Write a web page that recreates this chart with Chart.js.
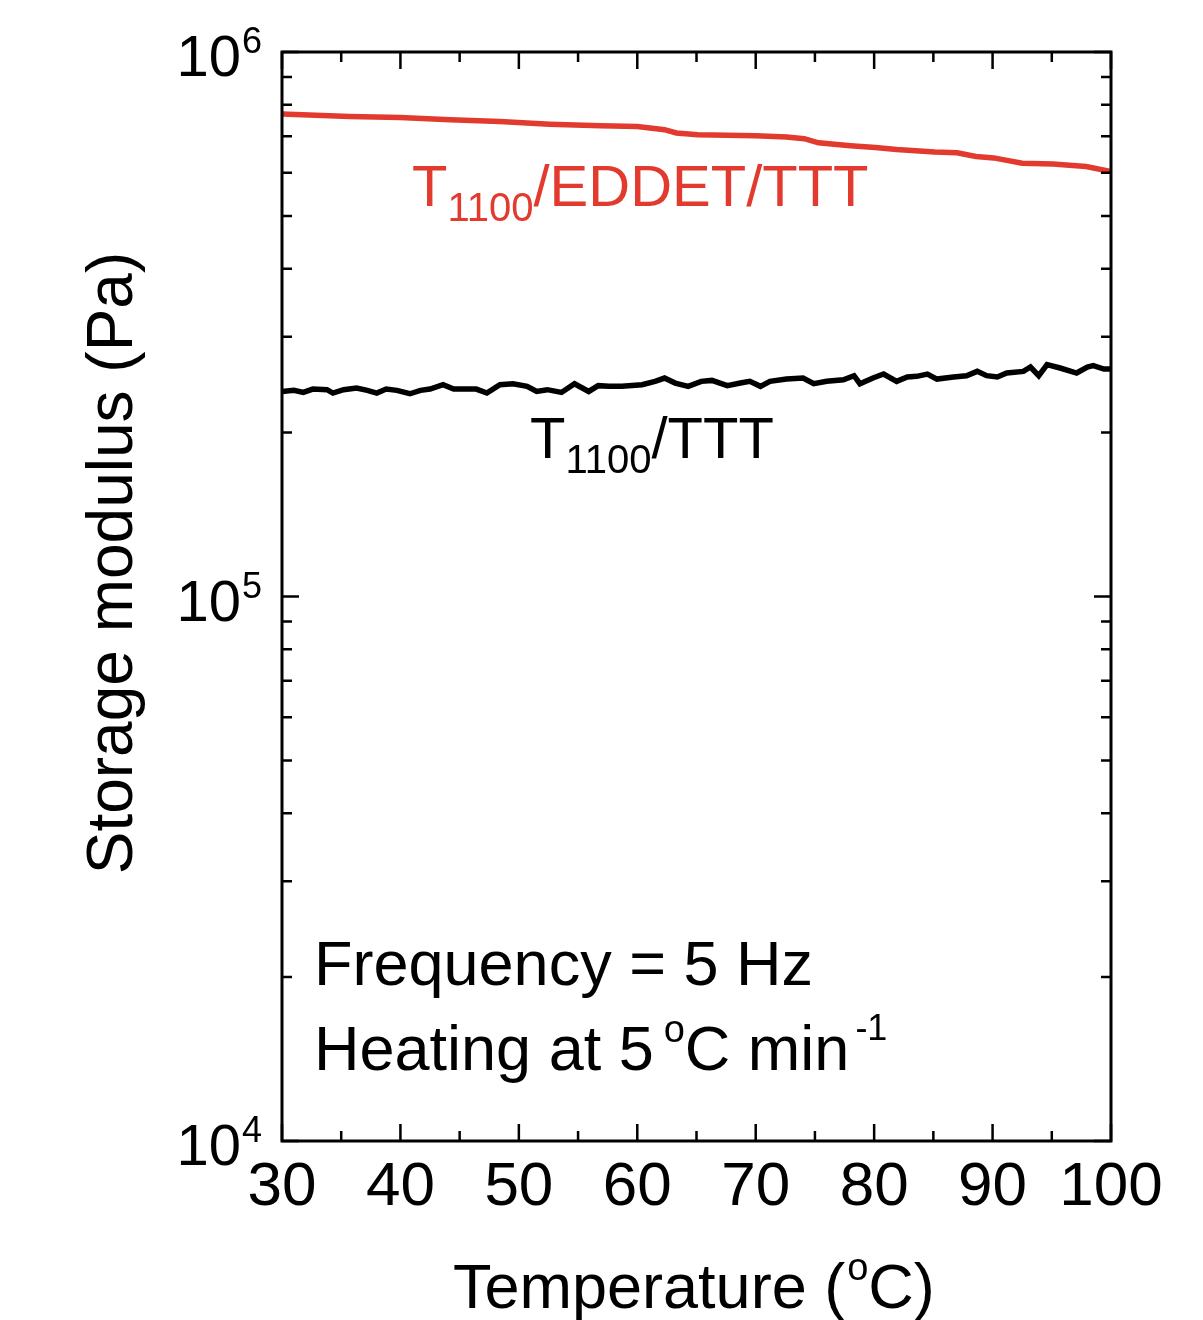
<!DOCTYPE html>
<html>
<head>
<meta charset="utf-8">
<script src="https://cdn.jsdelivr.net/npm/chart.js@4.4.1/dist/chart.umd.min.js"></script>
<style>
  html, body { margin: 0; padding: 0; background: #fff; }
  #wrap { width: 1203px; height: 1320px; }
</style>
</head>
<body>
<div id="wrap"><canvas id="chartModulus" width="1203" height="1320"></canvas></div>
<script>
// ---------- Datos ----------
const xTicks = [30, 40, 50, 60, 70, 80, 90, 100];
const yDecades = [4, 5, 6];

const redTemps = [30.0, 35.7, 40.0, 44.2, 48.4, 52.6, 56.9, 60.0, 62.3, 63.3, 65.1, 70.0, 72.6, 74.1,
    75.3, 78.0, 80.1, 81.9, 85.1, 87.0, 88.6, 90.1, 92.5, 95.1, 97.9, 100.0];
const redModulus = [7.69e5, 7.61e5, 7.58e5, 7.51e5, 7.45e5, 7.37e5, 7.32e5, 7.30e5, 7.20e5, 7.10e5, 7.05e5,
    7.02e5, 6.98e5, 6.93e5, 6.81e5, 6.73e5, 6.68e5, 6.62e5, 6.55e5, 6.53e5, 6.43e5, 6.39e5, 6.25e5,
    6.23e5, 6.16e5, 6.03e5];

const blackTemps = [30.0, 31.0, 31.8, 32.6, 33.8, 34.3, 35.2, 36.3, 37.2, 38.0, 38.8, 39.7, 40.8, 41.7,
    42.5, 43.6, 44.5, 45.6, 46.4, 47.3, 48.4, 49.5, 50.7, 51.5, 52.4, 53.6, 54.7, 55.9, 56.7, 57.6, 58.7,
    60.4, 61.5, 62.3, 63.2, 64.3, 65.4, 66.3, 67.6, 68.7, 69.5, 70.4, 71.2, 72.6, 74.0, 74.9, 76.0, 77.4,
    78.3, 78.8, 79.9, 80.8, 81.9, 82.8, 83.6, 84.5, 85.3, 86.7, 87.8, 88.7, 89.5, 90.4, 91.2, 92.6, 93.2,
    93.9, 94.6, 95.7, 97.1, 98.0, 98.5, 99.4, 100.0];
const blackModulus = [2.380e5, 2.391e5, 2.370e5, 2.404e5, 2.398e5, 2.364e5, 2.398e5, 2.415e5, 2.391e5,
    2.364e5, 2.404e5, 2.391e5, 2.357e5, 2.391e5, 2.404e5, 2.449e5, 2.404e5, 2.404e5, 2.404e5, 2.364e5,
    2.449e5, 2.459e5, 2.432e5, 2.380e5, 2.398e5, 2.370e5, 2.459e5, 2.380e5, 2.439e5, 2.432e5, 2.432e5,
    2.449e5, 2.484e5, 2.519e5, 2.466e5, 2.432e5, 2.484e5, 2.494e5, 2.439e5, 2.466e5, 2.484e5, 2.432e5,
    2.484e5, 2.508e5, 2.519e5, 2.459e5, 2.484e5, 2.501e5, 2.544e5, 2.459e5, 2.519e5, 2.562e5, 2.484e5,
    2.530e5, 2.537e5, 2.562e5, 2.508e5, 2.530e5, 2.544e5, 2.591e5, 2.544e5, 2.530e5, 2.573e5, 2.591e5,
    2.639e5, 2.544e5, 2.665e5, 2.628e5, 2.573e5, 2.639e5, 2.654e5, 2.617e5, 2.617e5];

const RED = '#e23a2e';
const FONT = '"Liberation Sans", Arial, Helvetica, sans-serif';

const toPoints = (xs, ys) => xs.map((x, i) => ({ x, y: ys[i] }));

// texto con sub/superindices: runs = [{ t, s, dy, dx }]
function drawRuns(ctx, x, y, runs, color) {
    ctx.save();
    ctx.fillStyle = color;
    ctx.textAlign = 'left';
    ctx.textBaseline = 'alphabetic';
    let cx = x;
    runs.forEach(r => {
        ctx.font = `${r.s}px ${FONT}`;
        cx += r.dx || 0;
        ctx.fillText(r.t, cx, y + (r.dy || 0));
        cx += ctx.measureText(r.t).width;
    });
    ctx.restore();
}

// ---------- Marco, ticks y textos ----------
const framePlugin = {
    id: 'frame',
    afterDraw(chart) {
        const { ctx, chartArea: a, scales: { x, y } } = chart;
        const MAJ = 17, MIN = 10;
        ctx.save();
        ctx.strokeStyle = '#000';
        ctx.lineWidth = 2.5;
        ctx.beginPath();
        // ticks x (arriba y abajo, hacia adentro)
        for (let t = 30; t <= 100; t += 5) {
            const px = x.getPixelForValue(t);
            const len = t % 10 === 0 ? MAJ : MIN;
            ctx.moveTo(px, a.bottom); ctx.lineTo(px, a.bottom - len);
            ctx.moveTo(px, a.top); ctx.lineTo(px, a.top + len);
        }
        // ticks y log
        yDecades.forEach(d => {
            for (let m = 1; m <= 9; m++) {
                if (d === 6 && m > 1) break;
                const py = y.getPixelForValue(m * Math.pow(10, d));
                const len = m === 1 ? MAJ : MIN;
                ctx.moveTo(a.left, py); ctx.lineTo(a.left + len, py);
                ctx.moveTo(a.right, py); ctx.lineTo(a.right - len, py);
            }
        });
        ctx.stroke();
        ctx.lineWidth = 3;
        ctx.strokeRect(a.left, a.top, a.right - a.left, a.bottom - a.top);
        ctx.restore();

        // etiquetas eje y: 10^n
        yDecades.forEach(d => {
            const py = y.getPixelForValue(Math.pow(10, d));
            ctx.save();
            ctx.fillStyle = '#000';
            ctx.textBaseline = 'alphabetic';
            ctx.font = `58px ${FONT}`;
            ctx.textAlign = 'right';
            ctx.fillText('10', 241, py + 24);
            ctx.font = `36px ${FONT}`;
            ctx.textAlign = 'left';
            ctx.fillText(String(d), 242, py + 1);
            ctx.restore();
        });

        // titulo eje y
        ctx.save();
        ctx.fillStyle = '#000';
        ctx.font = `64px ${FONT}`;
        ctx.textAlign = 'center';
        ctx.textBaseline = 'alphabetic';
        ctx.translate(132, 563);
        ctx.rotate(-Math.PI / 2);
        ctx.fillText('Storage modulus (Pa)', 0, 0);
        ctx.restore();

        // titulo eje x
        drawRuns(ctx, 453, 1308, [
            { t: 'Temperature (', s: 63 },
            { t: 'o', s: 38, dy: -28, dx: 2 },
            { t: 'C)', s: 63 }
        ], '#000');

        // rotulos de series
        drawRuns(ctx, 412, 206, [
            { t: 'T', s: 58 }, { t: '1100', s: 40, dy: 15 }, { t: '/EDDET/TTT', s: 58 }
        ], RED);
        drawRuns(ctx, 530, 458, [
            { t: 'T', s: 58 }, { t: '1100', s: 40, dy: 15 }, { t: '/TTT', s: 58 }
        ], '#000');

        // condiciones
        drawRuns(ctx, 314, 985, [{ t: 'Frequency = 5 Hz', s: 63 }], '#000');
        drawRuns(ctx, 314, 1070, [
            { t: 'Heating at 5', s: 63 },
            { t: 'o', s: 38, dy: -28, dx: 10 },
            { t: 'C min', s: 63 },
            { t: '-1', s: 36, dy: -30, dx: 6 }
        ], '#000');
    }
};

new Chart(document.getElementById('chartModulus'), {
    type: 'line',
    data: {
        datasets: [
            { label: 'T1100/EDDET/TTT', data: toPoints(redTemps, redModulus), borderColor: RED,
              borderWidth: 5.5, pointRadius: 0, tension: 0, fill: false },
            { label: 'T1100/TTT', data: toPoints(blackTemps, blackModulus), borderColor: '#000',
              borderWidth: 5.5, pointRadius: 0, tension: 0, fill: false }
        ]
    },
    options: {
        responsive: false, animation: false,
        layout: { padding: { top: 52, right: 92, left: 0, bottom: 0 } },
        plugins: { legend: { display: false }, tooltip: { enabled: false } },
        scales: {
            x: {
                type: 'linear', min: 30, max: 100,
                grid: { display: false, drawTicks: false }, border: { display: false },
                ticks: {
                    stepSize: 10, padding: 10, color: '#000', autoSkip: false, maxRotation: 0,
                    font: { family: FONT, size: 62 },
                    callback: (v) => xTicks.includes(v) ? String(v) : ''
                },
                afterFit: (s) => { s.height = 179; }
            },
            y: {
                type: 'logarithmic', min: 1e4, max: 1e6,
                grid: { display: false, drawTicks: false }, border: { display: false },
                ticks: { display: false },
                afterFit: (s) => { s.width = 282; }
            }
        }
    },
    plugins: [framePlugin]
});
</script>
</body>
</html>
